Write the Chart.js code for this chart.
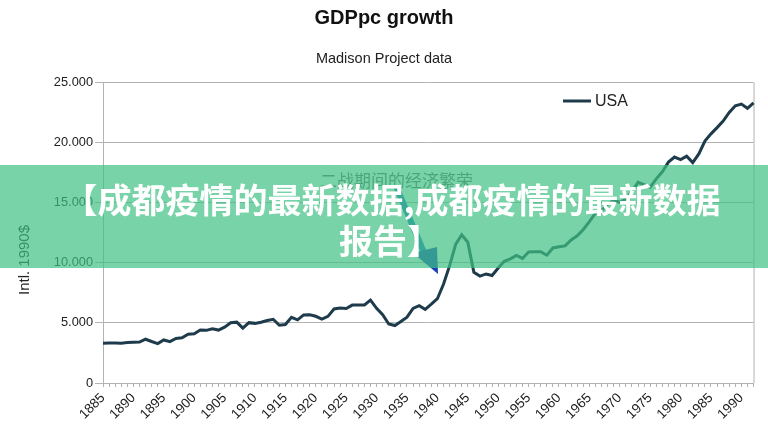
<!DOCTYPE html>
<html>
<head>
<meta charset="utf-8">
<script src="https://cdn.jsdelivr.net/npm/chart.js@4.4.1/dist/chart.umd.min.js"></script>
<style>
  html, body { margin: 0; padding: 0; background: #fff; }
  #wrap { position: relative; width: 768px; height: 434px; }
</style>
</head>
<body>
<div id="wrap"><canvas id="chart" width="768" height="434"></canvas></div>
<script>
// Madison Project data, USA GDP per capita (Intl. 1990$)
const years = [
  1885, 1886, 1887, 1888, 1889, 1890, 1891, 1892, 1893, 1894,
  1895, 1896, 1897, 1898, 1899, 1900, 1901, 1902, 1903, 1904,
  1905, 1906, 1907, 1908, 1909, 1910, 1911, 1912, 1913, 1914,
  1915, 1916, 1917, 1918, 1919, 1920, 1921, 1922, 1923, 1924,
  1925, 1926, 1927, 1928, 1929, 1930, 1931, 1932, 1933, 1934,
  1935, 1936, 1937, 1938, 1939, 1940, 1941, 1942, 1943, 1944,
  1945, 1946, 1947, 1948, 1949, 1950, 1951, 1952, 1953, 1954,
  1955, 1956, 1957, 1958, 1959, 1960, 1961, 1962, 1963, 1964,
  1965, 1966, 1967, 1968, 1969, 1970, 1971, 1972, 1973, 1974,
  1975, 1976, 1977, 1978, 1979, 1980, 1981, 1982, 1983, 1984,
  1985, 1986, 1987, 1988, 1989, 1990, 1991, 1992
];
const usa = [
  3300, 3320, 3330, 3300, 3360, 3390, 3400, 3640, 3450, 3280,
  3580, 3440, 3700, 3760, 4050, 4090, 4400, 4380, 4500, 4400,
  4640, 5010, 5060, 4560, 5020, 4960, 5050, 5200, 5300, 4800,
  4860, 5460, 5250, 5660, 5680, 5550, 5320, 5540, 6160, 6230,
  6200, 6480, 6490, 6490, 6900, 6210, 5690, 4910, 4780, 5110,
  5470, 6200, 6430, 6130, 6560, 7010, 8210, 9740, 11520, 12330,
  11710, 9200, 8890, 9070, 8940, 9560, 10120, 10320, 10610, 10360,
  10900, 10910, 10920, 10630, 11230, 11330, 11400, 11900, 12240, 12770,
  13420, 14130, 14330, 14860, 15180, 15030, 15300, 15940, 16690, 16490,
  16280, 16980, 17570, 18370, 18790, 18580, 18860, 18330, 19050, 20120,
  20720, 21240, 21790, 22500, 23060, 23200, 22850, 23300
];
const yTicks = [0, 5000, 10000, 15000, 20000, 25000];
const seriesName = 'USA';
const chartTitle = 'GDPpc growth';
const chartSubtitle = 'Madison Project data';
const yTitle = 'Intl. 1990$';
const noteText = '二战期间的经济繁荣';
const bannerLines = ['【成都疫情的最新数据,成都疫情的最新数据', '报告】'];

const lineColor = '#1e3b4c';
const gridColor = '#b3b3b3';
const FONT = "'Liberation Sans', Arial, sans-serif";
const CJK = "'Noto Sans CJK SC', sans-serif";

// extras drawn on top: frame, legend, axis title, arrow, overlay banner
const decor = {
  id: 'decor',
  beforeDatasetsDraw(chart) {
    const { ctx, chartArea: a } = chart;
    ctx.save();
    ctx.strokeStyle = gridColor;
    ctx.lineWidth = 1;
    ctx.beginPath();
    ctx.moveTo(a.right + 0.5, a.top);
    ctx.lineTo(a.right + 0.5, a.bottom);
    ctx.stroke();
    ctx.restore();
  },
  afterDraw(chart) {
    const { ctx } = chart;
    ctx.save();
    // legend
    ctx.strokeStyle = lineColor;
    ctx.lineWidth = 3;
    ctx.beginPath();
    ctx.moveTo(563, 101);
    ctx.lineTo(591, 101);
    ctx.stroke();
    ctx.fillStyle = '#222';
    ctx.font = '16px ' + FONT;
    ctx.textBaseline = 'middle';
    ctx.textAlign = 'left';
    ctx.fillText(seriesName, 595, 102);

    // y axis title
    ctx.save();
    ctx.translate(25, 260);
    ctx.rotate(-Math.PI / 2);
    ctx.textAlign = 'center';
    ctx.font = '15px ' + FONT;
    ctx.fillStyle = '#222';
    ctx.fillText(yTitle, 0, 0);
    ctx.restore();

    // faint annotation + arrow
    ctx.font = '17px ' + CJK;
    ctx.fillStyle = '#6a6a6a';
    ctx.textAlign = 'left';
    ctx.fillText(noteText, 320, 181);
    ctx.strokeStyle = '#2a6fc4';
    ctx.lineWidth = 6;
    ctx.beginPath();
    ctx.moveTo(396, 186);
    ctx.lineTo(425, 255);
    ctx.stroke();
    ctx.fillStyle = '#1b3fb8';
    ctx.beginPath();
    ctx.moveTo(413, 253);
    ctx.lineTo(437, 247);
    ctx.lineTo(438, 274);
    ctx.closePath();
    ctx.fill();

    // overlay banner
    ctx.fillStyle = 'rgba(62,194,131,0.7)';
    ctx.fillRect(0, 165, chart.width, 103);
    ctx.fillStyle = '#fff';
    ctx.font = 'bold 34px ' + CJK;
    ctx.textAlign = 'center';
    ctx.textBaseline = 'middle';
    ctx.fillText(bannerLines[0], 392, 200);
    ctx.fillText(bannerLines[1], 390, 241);
    ctx.restore();
  }
};

new Chart(document.getElementById('chart'), {
  type: 'line',
  data: {
    labels: years,
    datasets: [{
      label: seriesName,
      data: usa,
      borderColor: lineColor,
      borderWidth: 3,
      pointRadius: 0,
      tension: 0,
      fill: false
    }]
  },
  options: {
    responsive: false,
    animation: false,
    layout: { padding: { left: 0, right: 0, top: 0, bottom: 0 } },
    plugins: {
      legend: { display: false },
      tooltip: { enabled: false },
      title: {
        display: true, text: chartTitle, color: '#111',
        font: { family: FONT, size: 20, weight: 'bold' },
        padding: { top: 6, bottom: 20 }
      },
      subtitle: {
        display: true, text: chartSubtitle, color: '#222',
        font: { family: FONT, size: 14.5 },
        padding: { top: 0, bottom: 15 }
      }
    },
    scales: {
      x: {
        type: 'category',
        offset: false,
        grid: { drawOnChartArea: false, tickLength: 4, color: gridColor },
        border: { color: gridColor },
        ticks: {
          autoSkip: false, minRotation: 45, maxRotation: 45, padding: 3,
          color: '#222', font: { family: FONT, size: 13.5 },
          callback: (v, i) => (years[i] % 5 === 0 ? String(years[i]) : '')
        },
        afterFit: s => { s.height = 51; }
      },
      y: {
        min: 0, max: 25000,
        afterBuildTicks: s => { s.ticks = yTicks.map(v => ({ value: v })); },
        grid: { color: gridColor, tickLength: 8 },
        border: { color: gridColor },
        ticks: {
          padding: 2, color: '#222', font: { family: FONT, size: 12.8 },
          callback: v => (v === 0 ? '0' : (v / 1000).toFixed(3))
        },
        afterFit: s => { s.width = 103; }
      },
      // empty right-hand spacer so the plot ends at the reference's right edge
      yPad: {
        position: 'right', min: 0, max: 25000,
        grid: { display: false }, border: { display: false },
        ticks: { display: false },
        afterFit: s => { s.width = 13; }
      }
    }
  },
  plugins: [decor]
});
</script>
</body>
</html>
